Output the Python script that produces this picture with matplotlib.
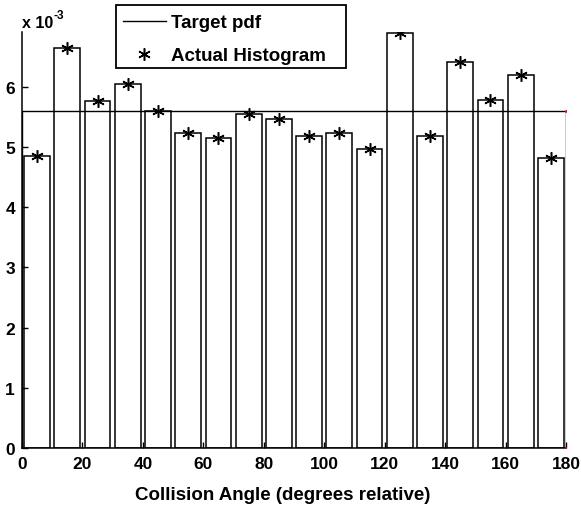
import numpy as np
import matplotlib.pyplot as plt
from matplotlib.patches import Rectangle

plt.rcParams['font.family'] = ['Liberation Sans', 'DejaVu Sans']
plt.rcParams['font.weight'] = 'bold'

# histogram bins (degrees) and normalised counts (x 1e-3)
bin_centers = np.arange(5, 180, 10)
hist_vals = [4.845, 6.65, 5.76, 6.04, 5.60, 5.24, 5.15, 5.55, 5.46,
             5.19, 5.23, 4.97, 6.89, 5.19, 6.41, 5.78, 6.20, 4.82]
target_pdf = 5.60
scale = 1e-3

hist_vals = np.array(hist_vals) * scale
target_pdf = target_pdf * scale

W, H = 581, 510
fig = plt.figure(figsize=(W / 100, H / 100), dpi=100)
ax = fig.add_axes([22 / W, 61 / H, 544 / W, 416 / H])

ax.bar(bin_centers, hist_vals, width=8.5, color='white',
       edgecolor='black', linewidth=1.1, zorder=1)

# uniform target density drawn as a box over [0, 180]
tx = [0, 0, 180, 180]
ty = [0, target_pdf, target_pdf, 0]
line, = ax.plot(tx, ty, color='black', linewidth=1.0, zorder=2)
ax.plot([180, 180], [0, target_pdf], 'r.', markersize=2, zorder=3)

stars, = ax.plot(bin_centers, hist_vals, linestyle='none', color='black',
                 marker=(6, 2, 0), markersize=9, markeredgewidth=1.1, zorder=4)

ax.set_xlim(0, 180)
ax.set_ylim(0, 6.91e-3)
ax.set_xticks(np.arange(0, 181, 20))
ax.set_yticks(np.arange(0, 7) * scale)
ax.set_yticklabels([str(i) for i in range(7)])
ax.tick_params(direction='in', length=4, width=1.0, labelsize=12.5)
ax.tick_params(axis='x', pad=6)
ax.tick_params(axis='y', pad=5)
for s in ['top', 'right']:
    ax.spines[s].set_visible(False)
for s in ['left', 'bottom']:
    ax.spines[s].set_linewidth(1.1)

ax.set_xlabel('Collision Angle (degrees relative)', fontsize=13.5,
              fontweight='bold')
ax.xaxis.set_label_coords((283 - 22) / 544, -38 / 416)

fig.text(22 / W, 1 - 28 / H, 'x 10', fontsize=11.5, fontweight='bold',
         va='baseline', ha='left')
fig.text(54 / W, 1 - 19 / H, '-3', fontsize=8.5, fontweight='bold',
         va='baseline', ha='left')

leg = ax.legend([line, stars], ['Target pdf', 'Actual Histogram'],
                loc='upper left', bbox_to_anchor=(94 / 544, (449 - 8.5) / 416),
                borderaxespad=0, fancybox=False, framealpha=0,
                fontsize=13.5, handlelength=2.3,
                borderpad=0.35, labelspacing=0.85, handletextpad=0.3)
leg.get_frame().set_visible(False)
leg.set_zorder(6)
for t in leg.get_texts():
    t.set_fontweight('bold')

# legend box with the wider right margin
box = Rectangle((116 / W, 1 - 69 / H), 230 / W, 63 / H, transform=fig.transFigure,
                facecolor='white', edgecolor='black', linewidth=1.3,
                clip_on=False, zorder=5)
ax.add_artist(box)

fig.savefig('out.png', dpi=100)
